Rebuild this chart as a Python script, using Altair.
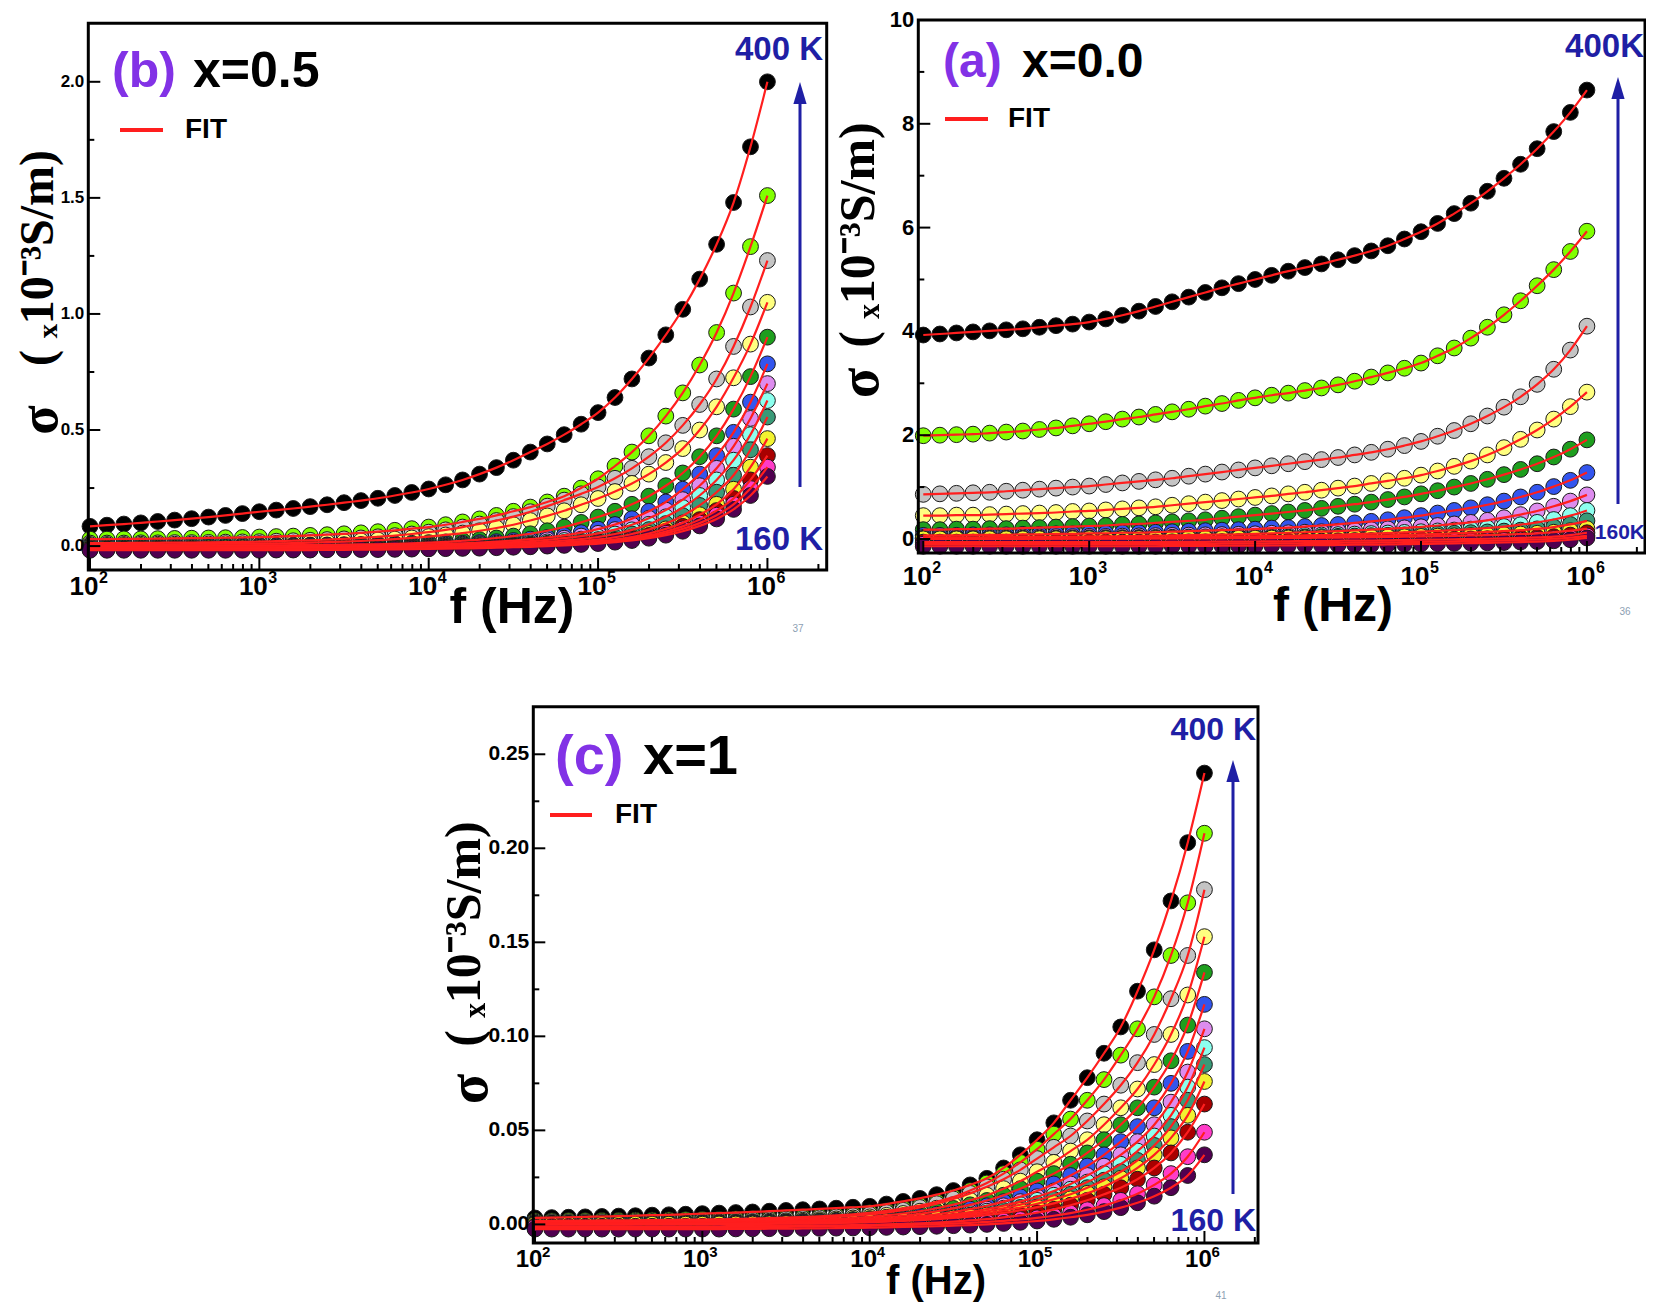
import altair as alt
import pandas as pd

# ---------------- data ----------------
FREQ_HZ = [100, 125.9, 158.5, 199.5, 251.2, 316.2, 398.1, 501.2, 631.0, 794.3,
           1000, 1259, 1585, 1995, 2512, 3162, 3981, 5012, 6310, 7943,
           10000, 12589, 15849, 19953, 25119, 31623, 39811, 50119, 63096, 79433,
           100000, 125893, 158489, 199526, 251189, 316228, 398107, 501187, 630957, 794328,
           1000000]

TEMPS = ["400 K", "380 K", "360 K", "340 K", "320 K", "300 K", "280 K",
         "260 K", "240 K", "220 K", "200 K", "180 K", "160 K"]
COLORS = ["#000000", "#80FF00", "#C4C4C4", "#FFFF80", "#1E9E1E", "#3355EE", "#DD8CEE",
          "#8CFFEE", "#3A9A78", "#F2F230", "#A80000", "#FF3CC8", "#500050"]

X_TICKS = [100, 1000, 10000, 100000, 1000000]
X_TICK_BASE = ["10", "10", "10", "10", "10"]
X_TICK_EXP = ["2", "3", "4", "5", "6"]
X_MINOR = [200, 300, 400, 500, 600, 700, 800, 900,
           2000, 3000, 4000, 5000, 6000, 7000, 8000, 9000,
           20000, 30000, 40000, 50000, 60000, 70000, 80000, 90000,
           200000, 300000, 400000, 500000, 600000, 700000, 800000, 900000,
           2000000]

B_Y_TICKS = [0.0, 0.5, 1.0, 1.5, 2.0]
B_Y_LABELS = ["0.0", "0.5", "1.0", "1.5", "2.0"]
B_Y_MINOR = [0.25, 0.75, 1.25, 1.75]
A_Y_TICKS = [0, 2, 4, 6, 8, 10]
A_Y_LABELS = ["0", "2", "4", "6", "8", "10"]
A_Y_MINOR = [1, 3, 5, 7, 9]
C_Y_TICKS = [0.0, 0.05, 0.10, 0.15, 0.20, 0.25]
C_Y_LABELS = ["0.00", "0.05", "0.10", "0.15", "0.20", "0.25"]
C_Y_MINOR = [0.025, 0.075, 0.125, 0.175, 0.225]

# ---- panel (b) x=0.5 ----
B_400K = [0.085, 0.090, 0.095, 0.100, 0.106, 0.112, 0.118, 0.125, 0.132, 0.140,
          0.148, 0.155, 0.162, 0.170, 0.178, 0.187, 0.196, 0.206, 0.218, 0.231,
          0.246, 0.264, 0.285, 0.310, 0.338, 0.370, 0.405, 0.440, 0.480, 0.525,
          0.575, 0.640, 0.720, 0.810, 0.910, 1.020, 1.150, 1.300, 1.480, 1.720,
          2.000]
B_380K = [0.030, 0.030, 0.031, 0.031, 0.032, 0.033, 0.034, 0.035, 0.036, 0.037,
          0.039, 0.041, 0.043, 0.046, 0.049, 0.053, 0.057, 0.062, 0.068, 0.075,
          0.082, 0.092, 0.104, 0.117, 0.132, 0.150, 0.168, 0.190, 0.215, 0.250,
          0.290, 0.345, 0.405, 0.475, 0.560, 0.660, 0.780, 0.920, 1.090, 1.290,
          1.510]
B_360K = [0.013, 0.013, 0.013, 0.014, 0.014, 0.015, 0.015, 0.016, 0.017, 0.018,
          0.019, 0.021, 0.023, 0.025, 0.028, 0.031, 0.035, 0.040, 0.045, 0.052,
          0.060, 0.070, 0.082, 0.095, 0.110, 0.127, 0.148, 0.172, 0.198, 0.225,
          0.255, 0.292, 0.335, 0.385, 0.445, 0.520, 0.610, 0.720, 0.860, 1.030,
          1.230]
B_340K = [0.007, 0.007, 0.007, 0.008, 0.008, 0.008, 0.009, 0.009, 0.010, 0.010,
          0.011, 0.012, 0.013, 0.015, 0.017, 0.019, 0.022, 0.026, 0.030, 0.035,
          0.041, 0.048, 0.056, 0.066, 0.078, 0.092, 0.110, 0.130, 0.152, 0.178,
          0.205, 0.235, 0.270, 0.310, 0.360, 0.420, 0.500, 0.600, 0.725, 0.870,
          1.050]
B_320K = [0.002, 0.002, 0.002, 0.002, 0.002, 0.002, 0.002, 0.002, 0.003, 0.003,
          0.003, 0.003, 0.004, 0.004, 0.005, 0.006, 0.007, 0.008, 0.010, 0.012,
          0.015, 0.018, 0.023, 0.028, 0.035, 0.043, 0.053, 0.066, 0.082, 0.102,
          0.125, 0.150, 0.180, 0.215, 0.260, 0.315, 0.385, 0.475, 0.590, 0.730,
          0.900]
B_300K = [0.001, 0.001, 0.001, 0.001, 0.001, 0.001, 0.001, 0.001, 0.002, 0.002,
          0.002, 0.002, 0.002, 0.003, 0.003, 0.003, 0.004, 0.005, 0.006, 0.007,
          0.008, 0.010, 0.012, 0.015, 0.019, 0.024, 0.030, 0.037, 0.046, 0.058,
          0.073, 0.093, 0.118, 0.150, 0.190, 0.245, 0.310, 0.390, 0.490, 0.620,
          0.785]
B_280K = [0.000, 0.000, 0.000, 0.000, 0.000, 0.000, 0.001, 0.001, 0.001, 0.001,
          0.001, 0.001, 0.001, 0.002, 0.002, 0.002, 0.003, 0.003, 0.004, 0.004,
          0.005, 0.007, 0.008, 0.010, 0.013, 0.017, 0.021, 0.027, 0.034, 0.043,
          0.055, 0.071, 0.092, 0.120, 0.155, 0.200, 0.260, 0.335, 0.430, 0.550,
          0.700]
B_260K = [-0.003, -0.003, -0.003, -0.003, -0.003, -0.003, -0.003, -0.003, -0.002, -0.002,
          -0.002, -0.002, -0.002, -0.001, -0.001, -0.001, 0.000, 0.000, 0.001, 0.002,
          0.003, 0.004, 0.005, 0.007, 0.009, 0.011, 0.014, 0.018, 0.024, 0.030,
          0.039, 0.052, 0.070, 0.094, 0.126, 0.166, 0.218, 0.285, 0.370, 0.480,
          0.627]
B_240K = [-0.006, -0.006, -0.006, -0.006, -0.006, -0.006, -0.006, -0.006, -0.005, -0.005,
          -0.005, -0.005, -0.004, -0.004, -0.004, -0.003, -0.003, -0.002, -0.002, -0.001,
          0.000, 0.001, 0.002, 0.003, 0.005, 0.007, 0.009, 0.012, 0.016, 0.021,
          0.028, 0.038, 0.052, 0.071, 0.097, 0.131, 0.175, 0.232, 0.305, 0.415,
          0.556]
B_220K = [-0.009, -0.009, -0.009, -0.009, -0.009, -0.009, -0.009, -0.008, -0.008, -0.008,
          -0.008, -0.008, -0.007, -0.007, -0.007, -0.006, -0.006, -0.005, -0.005, -0.004,
          -0.003, -0.002, -0.001, 0.000, 0.002, 0.003, 0.005, 0.008, 0.011, 0.015,
          0.020, 0.028, 0.039, 0.054, 0.074, 0.100, 0.135, 0.180, 0.245, 0.340,
          0.463]
B_200K = [-0.012, -0.012, -0.012, -0.012, -0.012, -0.012, -0.012, -0.012, -0.012, -0.012,
          -0.012, -0.011, -0.011, -0.011, -0.010, -0.010, -0.009, -0.009, -0.008, -0.007,
          -0.006, -0.005, -0.004, -0.003, -0.001, 0.001, 0.003, 0.006, 0.009, 0.013,
          0.018, 0.025, 0.034, 0.046, 0.063, 0.085, 0.114, 0.153, 0.205, 0.285,
          0.390]
B_180K = [-0.015, -0.015, -0.015, -0.015, -0.015, -0.015, -0.015, -0.015, -0.015, -0.015,
          -0.015, -0.014, -0.014, -0.014, -0.013, -0.013, -0.012, -0.012, -0.011, -0.010,
          -0.009, -0.008, -0.007, -0.006, -0.004, -0.002, 0.000, 0.003, 0.006, 0.010,
          0.015, 0.021, 0.029, 0.040, 0.055, 0.074, 0.099, 0.133, 0.180, 0.248,
          0.340]
B_160K = [-0.018, -0.018, -0.018, -0.018, -0.018, -0.018, -0.018, -0.018, -0.018, -0.018,
          -0.018, -0.017, -0.017, -0.017, -0.016, -0.016, -0.015, -0.015, -0.014, -0.013,
          -0.012, -0.011, -0.010, -0.009, -0.007, -0.005, -0.003, 0.000, 0.003, 0.007,
          0.011, 0.017, 0.024, 0.034, 0.047, 0.064, 0.087, 0.117, 0.158, 0.218,
          0.300]

# ---- panel (a) x=0.0 ----
A_400K = [3.93, 3.95, 3.97, 3.99, 4.01, 4.03, 4.05, 4.08, 4.11, 4.14,
          4.18, 4.24, 4.31, 4.39, 4.48, 4.57, 4.66, 4.75, 4.84, 4.92,
          5.00, 5.08, 5.16, 5.23, 5.30, 5.38, 5.46, 5.55, 5.65, 5.78,
          5.92, 6.08, 6.27, 6.47, 6.70, 6.95, 7.22, 7.52, 7.85, 8.22,
          8.65]
A_380K = [1.99, 2.00, 2.01, 2.02, 2.04, 2.06, 2.08, 2.11, 2.14, 2.18,
          2.22, 2.26, 2.31, 2.35, 2.40, 2.45, 2.50, 2.56, 2.61, 2.67,
          2.72, 2.77, 2.81, 2.86, 2.91, 2.97, 3.04, 3.12, 3.20, 3.29,
          3.39, 3.53, 3.68, 3.87, 4.08, 4.32, 4.59, 4.88, 5.19, 5.54,
          5.93]
A_360K = [0.86, 0.87, 0.88, 0.89, 0.90, 0.92, 0.94, 0.96, 0.98, 1.00,
          1.02, 1.05, 1.08, 1.11, 1.14, 1.17, 1.21, 1.25, 1.29, 1.33,
          1.37, 1.41, 1.45, 1.49, 1.53, 1.57, 1.62, 1.67, 1.73, 1.80,
          1.88, 1.98, 2.09, 2.22, 2.37, 2.54, 2.74, 2.98, 3.27, 3.64,
          4.10]
A_340K = [0.45, 0.45, 0.46, 0.46, 0.47, 0.48, 0.49, 0.50, 0.51, 0.53,
          0.54, 0.56, 0.58, 0.60, 0.62, 0.65, 0.68, 0.71, 0.74, 0.77,
          0.80, 0.83, 0.87, 0.90, 0.94, 0.98, 1.02, 1.07, 1.12, 1.17,
          1.23, 1.31, 1.40, 1.50, 1.62, 1.76, 1.92, 2.10, 2.31, 2.55,
          2.83]
A_320K = [0.18, 0.18, 0.19, 0.19, 0.20, 0.20, 0.21, 0.22, 0.23, 0.24,
          0.25, 0.26, 0.28, 0.29, 0.31, 0.33, 0.35, 0.37, 0.40, 0.43,
          0.46, 0.49, 0.52, 0.55, 0.59, 0.63, 0.67, 0.71, 0.76, 0.81,
          0.87, 0.93, 1.00, 1.07, 1.15, 1.24, 1.34, 1.45, 1.58, 1.73,
          1.91]
A_300K = [0.07, 0.07, 0.07, 0.08, 0.08, 0.08, 0.09, 0.09, 0.10, 0.10,
          0.11, 0.11, 0.12, 0.12, 0.13, 0.14, 0.15, 0.16, 0.17, 0.18,
          0.19, 0.21, 0.22, 0.24, 0.26, 0.28, 0.31, 0.34, 0.37, 0.41,
          0.45, 0.50, 0.55, 0.60, 0.66, 0.73, 0.81, 0.90, 1.01, 1.13,
          1.28]
A_280K = [0.030, 0.030, 0.030, 0.030, 0.035, 0.035, 0.040, 0.040, 0.045, 0.045,
          0.050, 0.050, 0.055, 0.060, 0.065, 0.070, 0.075, 0.080, 0.085, 0.090,
          0.100, 0.110, 0.120, 0.130, 0.140, 0.150, 0.165, 0.180, 0.195, 0.215,
          0.235, 0.260, 0.290, 0.320, 0.360, 0.410, 0.470, 0.540, 0.630, 0.730,
          0.850]
A_260K = [0.010, 0.010, 0.010, 0.012, 0.012, 0.014, 0.015, 0.016, 0.018, 0.020,
          0.022, 0.024, 0.026, 0.028, 0.031, 0.034, 0.037, 0.040, 0.044, 0.048,
          0.053, 0.058, 0.064, 0.070, 0.077, 0.085, 0.094, 0.104, 0.115, 0.127,
          0.140, 0.155, 0.172, 0.190, 0.212, 0.240, 0.275, 0.320, 0.375, 0.450,
          0.550]
A_240K = [0.005, 0.005, 0.006, 0.006, 0.007, 0.007, 0.008, 0.008, 0.009, 0.010,
          0.011, 0.012, 0.013, 0.014, 0.016, 0.018, 0.020, 0.022, 0.024, 0.027,
          0.030, 0.033, 0.037, 0.041, 0.046, 0.051, 0.057, 0.064, 0.071, 0.079,
          0.088, 0.098, 0.110, 0.122, 0.136, 0.152, 0.170, 0.195, 0.230, 0.280,
          0.350]
A_220K = [0.003, 0.003, 0.003, 0.003, 0.004, 0.004, 0.004, 0.005, 0.005, 0.005,
          0.006, 0.006, 0.007, 0.008, 0.009, 0.010, 0.011, 0.012, 0.013, 0.015,
          0.016, 0.018, 0.020, 0.022, 0.025, 0.028, 0.031, 0.035, 0.039, 0.044,
          0.049, 0.055, 0.061, 0.068, 0.076, 0.085, 0.096, 0.110, 0.130, 0.160,
          0.200]
A_200K = [-0.060, -0.060, -0.060, -0.060, -0.060, -0.060, -0.060, -0.060, -0.060, -0.060,
          -0.060, -0.060, -0.060, -0.060, -0.060, -0.055, -0.055, -0.055, -0.050, -0.050,
          -0.050, -0.045, -0.045, -0.040, -0.040, -0.035, -0.030, -0.030, -0.025, -0.020,
          -0.015, -0.010, -0.005, 0.000, 0.005, 0.012, 0.020, 0.030, 0.045, 0.075,
          0.120]
A_180K = [-0.100, -0.100, -0.100, -0.100, -0.100, -0.100, -0.100, -0.100, -0.100, -0.100,
          -0.100, -0.100, -0.100, -0.100, -0.100, -0.095, -0.095, -0.095, -0.090, -0.090,
          -0.090, -0.085, -0.085, -0.080, -0.080, -0.075, -0.070, -0.070, -0.065, -0.060,
          -0.055, -0.050, -0.045, -0.040, -0.035, -0.028, -0.020, -0.010, 0.005, 0.025,
          0.060]
A_160K = [-0.140, -0.140, -0.140, -0.140, -0.140, -0.140, -0.140, -0.140, -0.140, -0.140,
          -0.140, -0.140, -0.140, -0.140, -0.140, -0.135, -0.135, -0.135, -0.130, -0.130,
          -0.130, -0.125, -0.125, -0.120, -0.120, -0.115, -0.110, -0.110, -0.105, -0.100,
          -0.095, -0.090, -0.085, -0.080, -0.075, -0.068, -0.060, -0.050, -0.035, -0.015,
          0.020]

# ---- panel (c) x=1 ----
C_400K = [0.0034, 0.0036, 0.0038, 0.0040, 0.0042, 0.0044, 0.0046, 0.0049, 0.0051, 0.0054,
          0.0057, 0.0060, 0.0063, 0.0066, 0.0070, 0.0074, 0.0078, 0.0082, 0.0086, 0.0091,
          0.0096, 0.0108, 0.0122, 0.0138, 0.0158, 0.0180, 0.0210, 0.0245, 0.0300, 0.0370,
          0.0450, 0.0540, 0.0660, 0.0780, 0.0910, 0.1050, 0.1240, 0.1460, 0.1720, 0.2030,
          0.2400]
C_380K = [0.0019, 0.0019, 0.0020, 0.0020, 0.0021, 0.0021, 0.0022, 0.0023, 0.0024, 0.0025,
          0.0026, 0.0027, 0.0029, 0.0031, 0.0033, 0.0036, 0.0039, 0.0043, 0.0048, 0.0054,
          0.0062, 0.0072, 0.0085, 0.0100, 0.0120, 0.0145, 0.0180, 0.0220, 0.0270, 0.0330,
          0.0400, 0.0480, 0.0560, 0.0660, 0.0770, 0.0900, 0.1040, 0.1210, 0.1430, 0.1710,
          0.2080]
C_360K = [0.0013, 0.0014, 0.0014, 0.0014, 0.0015, 0.0015, 0.0016, 0.0016, 0.0017, 0.0018,
          0.0019, 0.0020, 0.0021, 0.0023, 0.0025, 0.0028, 0.0031, 0.0035, 0.0040, 0.0046,
          0.0053, 0.0063, 0.0075, 0.0090, 0.0110, 0.0135, 0.0165, 0.0200, 0.0240, 0.0290,
          0.0350, 0.0410, 0.0470, 0.0550, 0.0640, 0.0740, 0.0860, 0.1010, 0.1200, 0.1430,
          0.1780]
C_340K = [0.0008, 0.0009, 0.0009, 0.0009, 0.0009, 0.0010, 0.0010, 0.0010, 0.0011, 0.0011,
          0.0012, 0.0013, 0.0014, 0.0015, 0.0017, 0.0019, 0.0022, 0.0025, 0.0029, 0.0034,
          0.0040, 0.0048, 0.0058, 0.0070, 0.0086, 0.0105, 0.0128, 0.0155, 0.0190, 0.0230,
          0.0280, 0.0330, 0.0390, 0.0450, 0.0530, 0.0620, 0.0720, 0.0850, 0.1010, 0.1220,
          0.1530]
C_320K = [0.0005, 0.0006, 0.0006, 0.0006, 0.0006, 0.0006, 0.0007, 0.0007, 0.0007, 0.0008,
          0.0008, 0.0009, 0.0010, 0.0011, 0.0012, 0.0014, 0.0016, 0.0019, 0.0022, 0.0026,
          0.0031, 0.0038, 0.0046, 0.0056, 0.0069, 0.0085, 0.0104, 0.0127, 0.0155, 0.0190,
          0.0230, 0.0270, 0.0320, 0.0380, 0.0450, 0.0530, 0.0620, 0.0730, 0.0870, 0.1060,
          0.1340]
C_300K = [0.0004, 0.0004, 0.0004, 0.0004, 0.0004, 0.0004, 0.0005, 0.0005, 0.0005, 0.0006,
          0.0006, 0.0007, 0.0008, 0.0009, 0.0010, 0.0011, 0.0013, 0.0015, 0.0018, 0.0021,
          0.0025, 0.0030, 0.0036, 0.0044, 0.0054, 0.0066, 0.0081, 0.0099, 0.0121, 0.0147,
          0.0178, 0.0215, 0.0260, 0.0310, 0.0370, 0.0440, 0.0520, 0.0620, 0.0750, 0.0920,
          0.1170]
C_280K = [0.0003, 0.0003, 0.0003, 0.0003, 0.0003, 0.0003, 0.0003, 0.0004, 0.0004, 0.0004,
          0.0005, 0.0005, 0.0006, 0.0007, 0.0008, 0.0009, 0.0010, 0.0012, 0.0014, 0.0017,
          0.0020, 0.0024, 0.0029, 0.0036, 0.0044, 0.0054, 0.0066, 0.0081, 0.0099, 0.0121,
          0.0147, 0.0178, 0.0215, 0.0260, 0.0310, 0.0370, 0.0440, 0.0530, 0.0650, 0.0810,
          0.1040]
C_260K = [0.0002, 0.0002, 0.0002, 0.0002, 0.0002, 0.0002, 0.0003, 0.0003, 0.0003, 0.0003,
          0.0003, 0.0004, 0.0004, 0.0005, 0.0006, 0.0007, 0.0008, 0.0010, 0.0012, 0.0014,
          0.0017, 0.0021, 0.0025, 0.0031, 0.0038, 0.0047, 0.0057, 0.0070, 0.0086, 0.0105,
          0.0128, 0.0155, 0.0187, 0.0225, 0.0270, 0.0320, 0.0390, 0.0470, 0.0580, 0.0730,
          0.0940]
C_240K = [0.0001, 0.0001, 0.0001, 0.0001, 0.0001, 0.0001, 0.0002, 0.0002, 0.0002, 0.0002,
          0.0002, 0.0003, 0.0003, 0.0004, 0.0004, 0.0005, 0.0006, 0.0007, 0.0009, 0.0011,
          0.0013, 0.0017, 0.0021, 0.0026, 0.0032, 0.0040, 0.0049, 0.0060, 0.0074, 0.0090,
          0.0110, 0.0133, 0.0160, 0.0195, 0.0235, 0.0280, 0.0340, 0.0420, 0.0520, 0.0660,
          0.0850]
C_220K = [0.0000, 0.0000, 0.0000, 0.0000, 0.0000, 0.0000, 0.0001, 0.0001, 0.0001, 0.0001,
          0.0001, 0.0002, 0.0002, 0.0002, 0.0003, 0.0004, 0.0004, 0.0005, 0.0007, 0.0009,
          0.0012, 0.0015, 0.0019, 0.0023, 0.0028, 0.0034, 0.0041, 0.0050, 0.0061, 0.0075,
          0.0092, 0.0112, 0.0136, 0.0165, 0.0200, 0.0245, 0.0300, 0.0370, 0.0460, 0.0580,
          0.0760]
C_200K = [-0.0010, -0.0010, -0.0010, -0.0010, -0.0010, -0.0010, -0.0010, -0.0010, -0.0010, -0.0010,
          -0.0010, -0.0010, -0.0009, -0.0009, -0.0008, -0.0008, -0.0007, -0.0006, -0.0005, -0.0004,
          -0.0002, 0.0000, 0.0003, 0.0006, 0.0010, 0.0015, 0.0021, 0.0028, 0.0037, 0.0048,
          0.0062, 0.0080, 0.0102, 0.0128, 0.0160, 0.0195, 0.0240, 0.0300, 0.0380, 0.0490,
          0.0640]
C_180K = [-0.0015, -0.0015, -0.0015, -0.0015, -0.0015, -0.0015, -0.0015, -0.0015, -0.0015, -0.0015,
          -0.0015, -0.0015, -0.0014, -0.0014, -0.0013, -0.0013, -0.0012, -0.0011, -0.0010, -0.0009,
          -0.0008, -0.0006, -0.0004, -0.0002, 0.0001, 0.0004, 0.0008, 0.0013, 0.0019, 0.0026,
          0.0035, 0.0046, 0.0060, 0.0078, 0.0100, 0.0128, 0.0163, 0.0210, 0.0270, 0.0360,
          0.0490]
C_160K = [-0.0025, -0.0025, -0.0025, -0.0025, -0.0025, -0.0025, -0.0025, -0.0025, -0.0025, -0.0025,
          -0.0025, -0.0025, -0.0024, -0.0024, -0.0023, -0.0023, -0.0022, -0.0021, -0.0020, -0.0019,
          -0.0018, -0.0016, -0.0014, -0.0012, -0.0010, -0.0007, -0.0004, 0.0000, 0.0005, 0.0011,
          0.0018, 0.0027, 0.0038, 0.0051, 0.0068, 0.0089, 0.0115, 0.0150, 0.0195, 0.0260,
          0.0370]

PANEL_B = [B_400K, B_380K, B_360K, B_340K, B_320K, B_300K, B_280K,
           B_260K, B_240K, B_220K, B_200K, B_180K, B_160K]
PANEL_A = [A_400K, A_380K, A_360K, A_340K, A_320K, A_300K, A_280K,
           A_260K, A_240K, A_220K, A_200K, A_180K, A_160K]
PANEL_C = [C_400K, C_380K, C_360K, C_340K, C_320K, C_300K, C_280K,
           C_260K, C_240K, C_220K, C_200K, C_180K, C_160K]

# ---------------- styling ----------------
SANS = "Liberation Sans"
SERIF = "Liberation Serif"
RED = "#FF1E1E"
BLUE = "#1F1FA5"
PURPLE = "#8232E6"
GREY = "#8DA0B3"
ONE = pd.DataFrame({"k": [0]})
YT1 = "\u03c3"
YT2 = "( \u209310\u207b\u00b3S/m)"
M = 8  # page margin: page coordinates -> view coordinates


def frame(series_list):
    rows = []
    for temp, values in zip(TEMPS, series_list):
        for f, v in zip(FREQ_HZ, values):
            rows.append({"f": f, "sigma": v, "T": temp})
    return pd.DataFrame(rows)


def txt(s, x, y, size, color="black", align="left", font=SANS, angle=0, weight="bold"):
    return alt.Chart(ONE).mark_text(
        text=s, align=align, baseline="middle", font=font, fontWeight=weight,
        fontSize=size, color=color, angle=angle
    ).encode(x=alt.value(x - M), y=alt.value(y - M))


def hline(x1, x2, y, color, width):
    return alt.Chart(ONE).mark_rule(color=color, strokeWidth=width).encode(
        x=alt.value(x1 - M), x2=alt.value(x2 - M), y=alt.value(y - M))


def arrow(x, tip, bottom):
    line = alt.Chart(ONE).mark_rule(color=BLUE, strokeWidth=3).encode(
        x=alt.value(x - M), y=alt.value(tip + 18 - M), y2=alt.value(bottom - M))
    head = alt.Chart(ONE).mark_point(
        shape="M-0.6,1L0,-1L0.6,1Z", size=484, filled=True, color=BLUE, opacity=1
    ).encode(x=alt.value(x - M), y=alt.value(tip + 11 - M))
    return [line, head]


def panel(series, box, xdom, ydom, y_ticks, y_labels, y_minor, y_lab, x_lab, x_pad,
          x_title, extras):
    x0, y0, x1, y1 = box
    df = frame(series)
    xs = alt.Scale(type="log", domain=xdom, range=[x0 - M, x1 - M], nice=False)
    ys = alt.Scale(domain=ydom, range=[y1 - M, y0 - M], nice=False, zero=False)
    X = lambda fld: alt.X(fld, scale=xs, axis=None)
    Y = lambda fld: alt.Y(fld, scale=ys, axis=None)
    pts = alt.Chart(df).mark_circle(size=250, opacity=1, stroke="#1a1a1a", strokeWidth=1).encode(
        x=X("f:Q"), y=Y("sigma:Q"),
        fill=alt.Fill("T:N", scale=alt.Scale(domain=TEMPS, range=COLORS), legend=None),
    )
    fit = alt.Chart(df).mark_line(color=RED, strokeWidth=2.2, interpolate="monotone").encode(
        x=X("f:Q"), y=Y("sigma:Q"), detail="T:N")
    frame_box = alt.Chart(ONE).mark_rect(filled=False, stroke="black", strokeWidth=3).encode(
        x=alt.value(x0 - M), x2=alt.value(x1 - M), y=alt.value(y0 - M), y2=alt.value(y1 - M))
    xmaj = alt.Chart(pd.DataFrame({"t": X_TICKS})).mark_rule(color="black", strokeWidth=2).encode(
        x=X("t:Q"), y=alt.value(y1 - M), y2=alt.value(y1 - M - 12))
    xmin = alt.Chart(pd.DataFrame({"t": X_MINOR})).mark_rule(color="black", strokeWidth=2).encode(
        x=X("t:Q"), y=alt.value(y1 - M), y2=alt.value(y1 - M - 6))
    ymaj = alt.Chart(pd.DataFrame({"t": y_ticks})).mark_rule(color="black", strokeWidth=2).encode(
        y=Y("t:Q"), x=alt.value(x0 - M), x2=alt.value(x0 - M + 12))
    ymin = alt.Chart(pd.DataFrame({"t": y_minor})).mark_rule(color="black", strokeWidth=2).encode(
        y=Y("t:Q"), x=alt.value(x0 - M), x2=alt.value(x0 - M + 6))
    tick_df = pd.DataFrame({"t": X_TICKS, "base": X_TICK_BASE, "exp": X_TICK_EXP})
    xlab = alt.Chart(tick_df).mark_text(
        font=SANS, fontWeight="bold", fontSize=x_lab, color="black", align="center",
        baseline="middle", dx=-6).encode(x=X("t:Q"), y=alt.value(y1 - M + x_pad), text="base:N")
    xexp = alt.Chart(tick_df).mark_text(
        font=SANS, fontWeight="bold", fontSize=round(x_lab * 0.62), color="black", align="left",
        baseline="middle", dx=round(x_lab * 0.56) - 6, dy=-round(x_lab * 0.33)).encode(
        x=X("t:Q"), y=alt.value(y1 - M + x_pad), text="exp:N")
    ylab = alt.Chart(pd.DataFrame({"t": y_ticks, "lab": y_labels})).mark_text(
        font=SANS, fontWeight="bold", fontSize=y_lab, color="black", align="right",
        baseline="middle").encode(y=Y("t:Q"), x=alt.value(x0 - M - 4), text="lab:N")
    return [pts, fit, frame_box, xmaj, xmin, ymaj, ymin, xlab, xexp, ylab, x_title, *extras]


# ---- (b) x=0.5 : box in page pixels ----
B_BOX = (88.3, 23.3, 826.7, 570.0)
layers_b = panel(
    PANEL_B, B_BOX, [10 ** 1.99, 10 ** 6.35], [-0.103, 2.252],
    B_Y_TICKS, B_Y_LABELS, B_Y_MINOR, 17, 26, 17,
    txt("f (Hz)", 512, 608, 50, align="center"),
    [txt("(b)", 112, 72, 50, PURPLE), txt("x=0.5", 193, 72, 50),
     hline(120, 163, 130, RED, 4), txt("FIT", 185, 130, 28),
     txt("400 K", 823, 50, 33, BLUE, "right"), txt("160 K", 823, 540, 33, BLUE, "right"),
     *arrow(800, 82, 487),
     txt(YT1, 41, 420, 54, font=SERIF, align="center", angle=270),
     txt(YT2, 39, 258, 48, font=SERIF, align="center", angle=270),
     txt("37", 798, 629, 10, GREY, "center", weight="normal")])

# ---- (a) x=0.0 ----
A_BOX = (918.3, 20.0, 1645.0, 553.0)
layers_a = panel(
    PANEL_A, A_BOX, [10 ** 1.97, 10 ** 6.35], [-0.27, 10.0],
    A_Y_TICKS, A_Y_LABELS, A_Y_MINOR, 22, 26, 24,
    txt("f (Hz)", 1333, 607, 48, align="center"),
    [txt("(a)", 943, 63, 48, PURPLE), txt("x=0.0", 1022, 63, 48),
     hline(945, 988, 119, RED, 4), txt("FIT", 1008, 119, 28),
     txt("400K", 1644, 47, 33, BLUE, "right"), txt("160K", 1645, 533, 21, BLUE, "right"),
     *arrow(1618, 77, 504),
     txt(YT1, 861, 383, 56, font=SERIF, align="center", angle=270),
     txt(YT2, 859, 235, 50, font=SERIF, align="center", angle=270),
     txt("36", 1625, 612, 10, GREY, "center", weight="normal")])

# ---- (c) x=1 ----
C_BOX = (533.3, 706.7, 1258.0, 1243.0)
layers_c = panel(
    PANEL_C, C_BOX, [10 ** 1.99, 10 ** 6.32], [-0.0099, 0.2753],
    C_Y_TICKS, C_Y_LABELS, C_Y_MINOR, 21, 24, 17,
    txt("f (Hz)", 936, 1282, 40, align="center"),
    [txt("(c)", 555, 757, 56, PURPLE), txt("x=1", 643, 757, 56),
     hline(550, 592, 815, RED, 4), txt("FIT", 615, 815, 28),
     txt("400 K", 1256, 730, 32, BLUE, "right"), txt("160 K", 1256, 1221, 32, BLUE, "right"),
     *arrow(1233, 760, 1194),
     txt(YT1, 470, 1089, 56, font=SERIF, align="center", angle=270),
     txt(YT2, 465, 934, 50, font=SERIF, align="center", angle=270),
     txt("41", 1221, 1296, 10, GREY, "center", weight="normal")])

chart = alt.layer(*layers_b, *layers_a, *layers_c).resolve_scale(
    x="independent", y="independent"
).properties(
    width=1638, height=1299, padding=0, background="white",
    autosize=alt.AutoSizeParams(type="none"),
).configure_view(strokeWidth=0)

chart.save("out.html", embed_options={"renderer": "svg", "actions": False})
